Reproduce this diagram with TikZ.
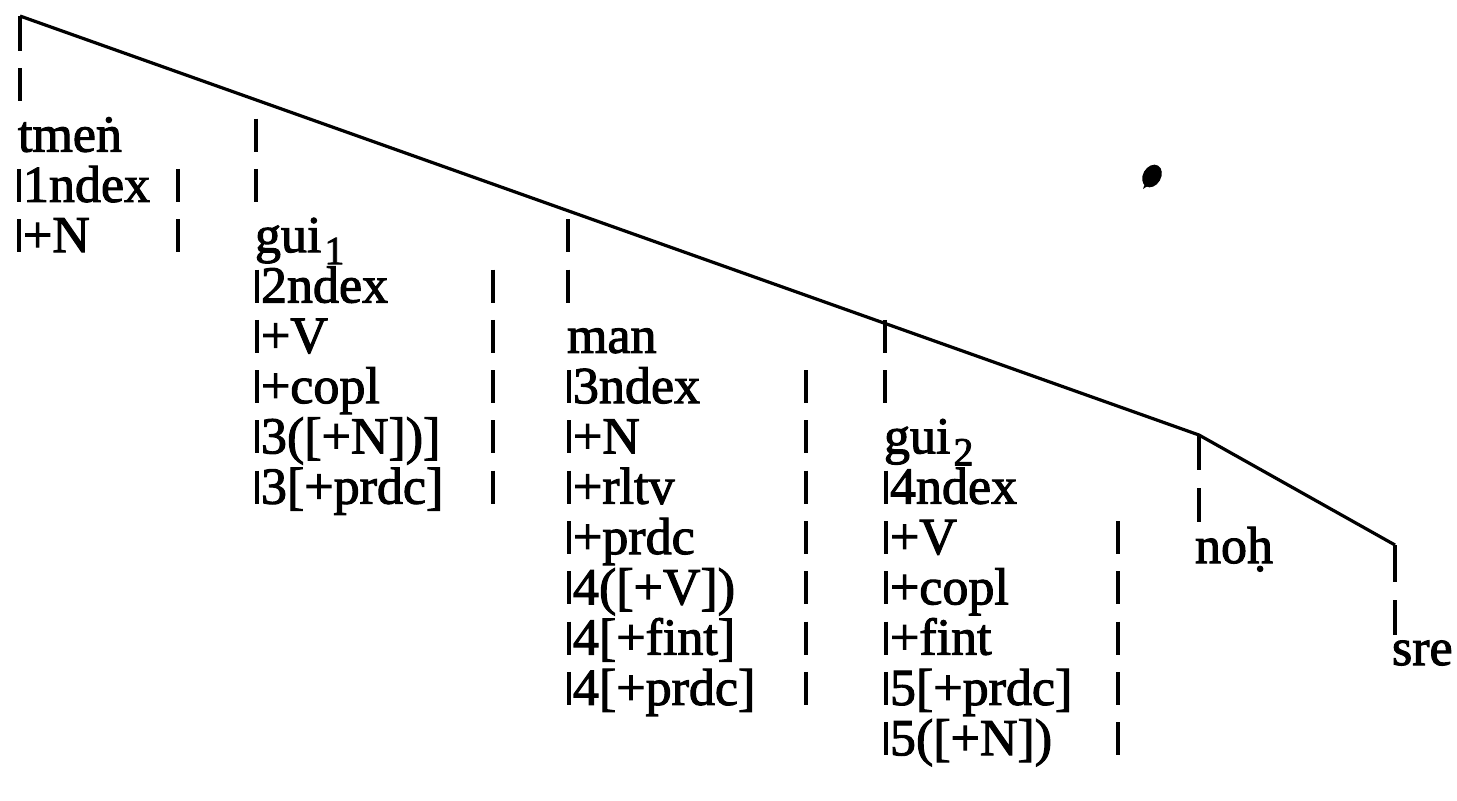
\documentclass[tikz,border=0pt]{standalone}
\usepackage{fontspec}
\setmainfont{Liberation Serif}
\newfontfamily\tfont{Liberation Serif}[FakeBold=2]
\newcommand\fs{\tfont\fontsize{26}{26}\selectfont}
\newcommand\sub[1]{\hspace{1.5pt}\raisebox{-6pt}{\fontsize{20}{20}\selectfont #1}}
\begin{document}
\begin{tikzpicture}[x=0.5pt,y=-0.5pt,
  vbar/.style={line width=1.9pt},
  tree/.style={line width=1.6pt, line join=miter},
  lab/.style={anchor=base west, inner sep=0pt, outer sep=0pt, font=\fs}]
\useasboundingbox (0,0) rectangle (1457,800);
% tree line
\coordinate (r0) at (20,16);
\coordinate (k1) at (1199,435);
\coordinate (k2) at (1395,545);
\draw[tree] (r0) -- (k1) -- (k2);
% helper for a bar in row #2 at x #1
\newcommand\vb[2]{\draw[vbar] (#1,{51+50.3*#2-33}) -- (#1,{51+50.3*#2});}
% column A
\draw[vbar] (r0) -- (20,51);
\vb{20}{1}
\node[lab] (tmen) at (18,{51+50.3*2}) {tmeṅ};
\foreach \r/\t in {3/1ndex,4/+N}{
  \vb{19}{\r}
  \node[lab] (a\r) at (23,{51+50.3*\r}) {\t};
  \vb{178}{\r}
}
% column B
\vb{256}{2}\vb{256}{3}
\node[lab] (gui1) at (255,{51+50.3*4}) {gui\sub{1}};
\foreach \r/\t in {5/2ndex,6/+V,7/+copl,8/{3([+N])]},9/{3[+prdc]}}{
  \vb{257}{\r}
  \node[lab] (b\r) at (261,{51+50.3*\r}) {\t};
  \vb{493}{\r}
}
% column C
\vb{568}{4}\vb{568}{5}
\node[lab] (man) at (567,{51+50.3*6}) {man};
\foreach \r/\t in {7/3ndex,8/+N,9/+rltv,10/+prdc,11/{4([+V])},12/{4[+fint]},13/{4[+prdc]}}{
  \vb{569}{\r}
  \node[lab] (c\r) at (573,{51+50.3*\r}) {\t};
  \vb{806}{\r}
}
% column D
\vb{885}{6}\vb{885}{7}
\node[lab] (gui2) at (884,{51+50.3*8}) {gui\sub{2}};
\vb{886}{9}
\node[lab] (d9) at (890,{51+50.3*9}) {4ndex};
\foreach \r/\t in {10/+V,11/+copl,12/+fint,13/{5[+prdc]},14/{5([+N])}}{
  \vb{886}{\r}
  \node[lab] (d\r) at (890,{51+50.3*\r}) {\t};
  \vb{1118}{\r}
}
% column E
\draw[vbar] (k1) -- (1199,470);
\draw[vbar] (1199,488) -- (1199,522);
\node[lab] (noh) at (1195,563) {noḥ};
% column F
\draw[vbar] (k2) -- (1395,582);
\draw[vbar] (1395,600) -- (1395,635);
\node[lab] (sre) at (1392,665) {sre};
% speck
\fill (1152,176) ellipse [x radius=4.5pt, y radius=6pt, rotate=-30];
\fill (1143,189) -- (1148,175) -- (1157,180) -- cycle;
\end{tikzpicture}
\end{document}
